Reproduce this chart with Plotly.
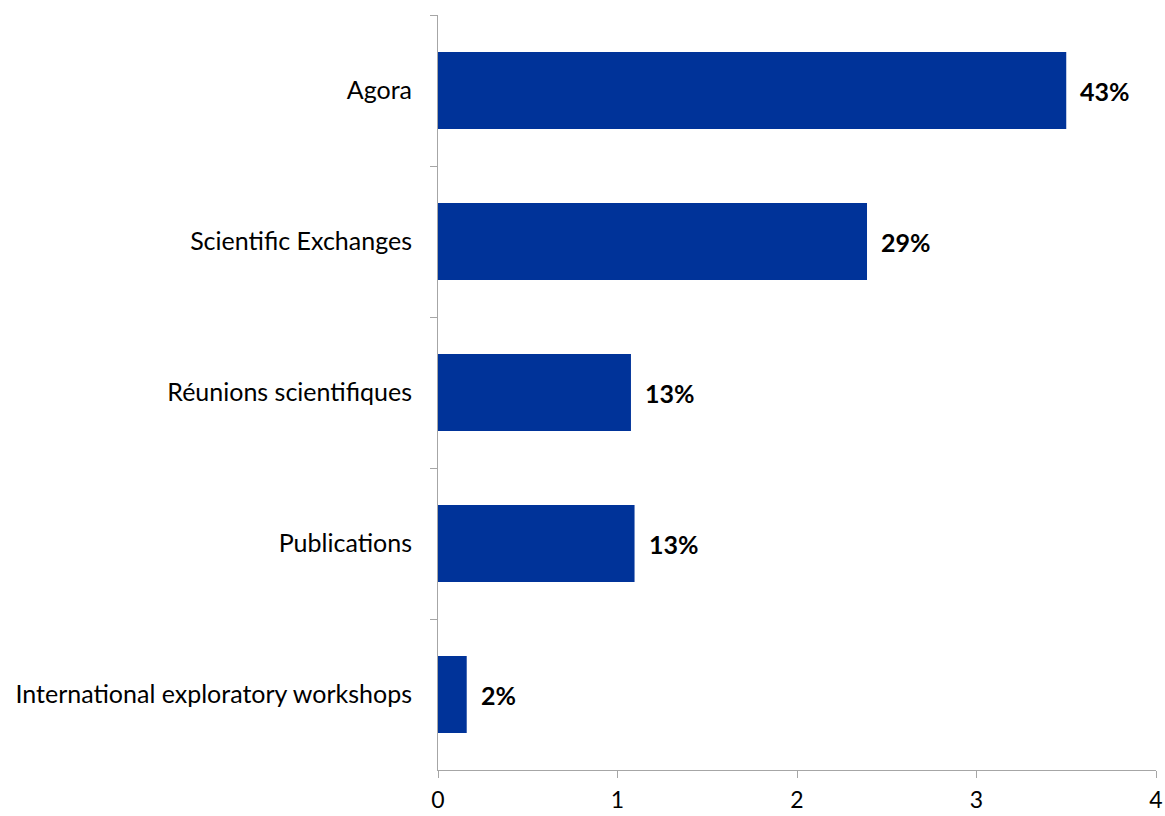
import plotly.graph_objects as go

categories = ["Agora", "Scientific Exchanges", "Réunions scientifiques",
              "Publications", "International exploratory workshops"]
values = [3.5, 2.39, 1.075, 1.095, 0.16]
labels = ["43%", "29%", "13%", "13%", "2%"]
x_ticks = [0, 1, 2, 3, 4]

FONT = "Lato"
AXIS_COLOR = "#a6a6a6"

fig = go.Figure()
fig.add_trace(go.Bar(
    x=values, y=categories, orientation="h",
    marker=dict(color="#003399", line=dict(width=0)),
    hoverinfo="skip",
))

for v, c, t in zip(values, categories, labels):
    fig.add_annotation(x=v, y=c, text="<b>%s</b>" % t, showarrow=False,
                       xanchor="left", yanchor="middle", xshift=12,
                       font=dict(family=FONT, size=25, color="#000000"))

fig.update_layout(
    width=1165, height=816,
    margin=dict(l=438, r=9, t=15, b=46, autoexpand=False),
    paper_bgcolor="white", plot_bgcolor="white",
    bargap=0.49,
    showlegend=False,
    font=dict(family=FONT, size=25, color="#000000"),
)
fig.update_xaxes(
    range=[0, 4], tickvals=x_ticks, ticktext=[str(v) for v in x_ticks],
    showgrid=False, zeroline=False, automargin=False,
    showline=True, linecolor=AXIS_COLOR, linewidth=1,
    ticks="outside", ticklen=7, tickcolor=AXIS_COLOR,
    tickfont=dict(family=FONT, size=23), ticklabelstandoff=2,
    ticklabeloverflow="allow",
)
fig.update_yaxes(
    categoryorder="array", categoryarray=categories, autorange="reversed",
    showgrid=False, zeroline=False, automargin=False,
    showline=True, linecolor=AXIS_COLOR, linewidth=1,
    ticks="outside", ticklen=7, tickcolor=AXIS_COLOR, tickson="boundaries",
    tickfont=dict(family=FONT, size=25), ticklabelstandoff=20,
)

# remove the default page margin so the figure fills the window exactly
fig.write_html(
    "out.html",
    config={"displayModeBar": False, "staticPlot": True},
    post_script="document.body.style.margin='0';document.body.style.overflow='hidden';",
)
